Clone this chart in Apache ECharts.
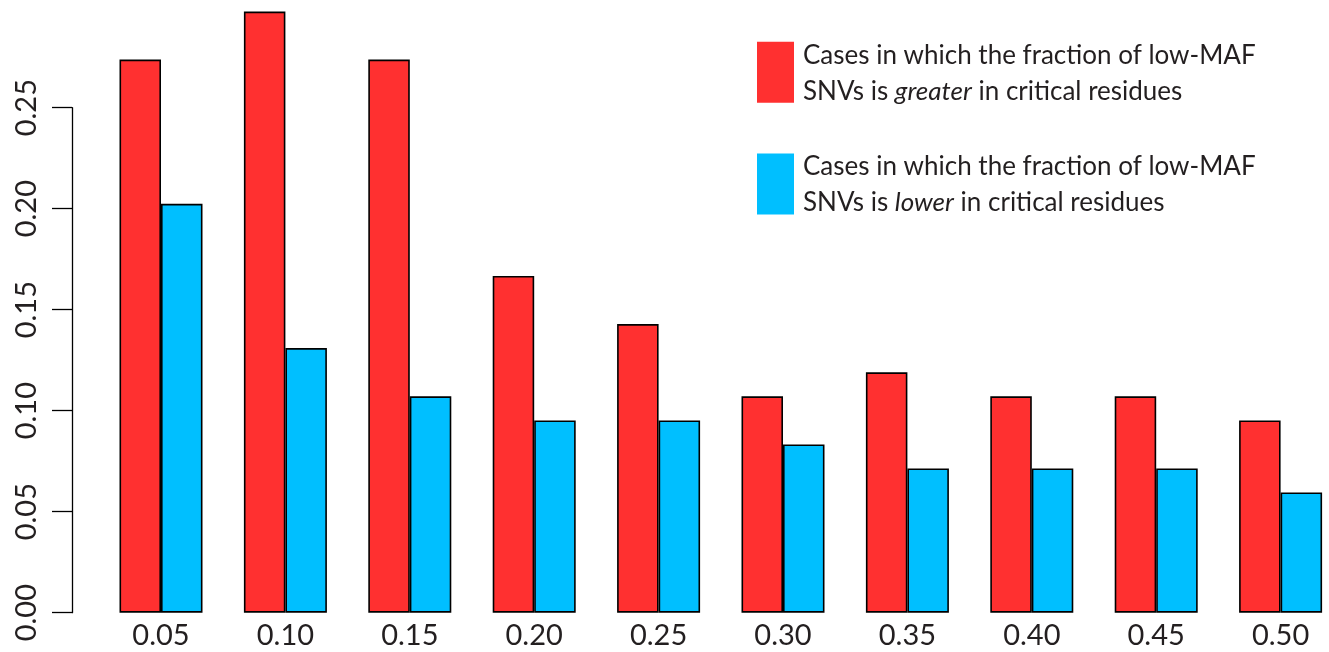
<!DOCTYPE html>
<html>
<head>
<meta charset="utf-8">
<script src="https://cdn.jsdelivr.net/npm/echarts@6/dist/echarts.min.js"></script>
<style>html,body{margin:0;padding:0;background:#fff;}#c{width:1329px;height:652px;}</style>
</head>
<body>
<div id="c"></div>
<script>
var categories = ['0.05','0.10','0.15','0.20','0.25','0.30','0.35','0.40','0.45','0.50'];
var greater = [0.2738,0.2976,0.2738,0.1667,0.1429,0.1071,0.1190,0.1071,0.1071,0.0952];
var lower = [0.2024,0.1310,0.1071,0.0952,0.0952,0.0833,0.0714,0.0714,0.0714,0.0595];
var seriesNames = ['Cases in which the fraction of low-MAF SNVs is greater in critical residues',
                   'Cases in which the fraction of low-MAF SNVs is lower in critical residues'];
var legendLines = {};
legendLines[seriesNames[0]] = 'Cases in which the fraction of low-MAF\nSNVs is {i|greater} in critical residues';
legendLines[seriesNames[1]] = 'Cases in which the fraction of low-MAF\nSNVs is {i|lower} in critical residues';

var FONT = 'Lato';
var FS = 29;
var LFS = 26;
var TXT = '#231f20';
var chart = echarts.init(document.getElementById('c'), null, {renderer:'canvas'});
chart.setOption({
  animation: false,
  backgroundColor: '#fff',
  textStyle: {fontFamily: FONT, color: TXT},
  grid: [
    {left: 98.8, width: 1244, top: 6.7, bottom: 39.3, outerBoundsMode: 'none', containLabel: false},
    {left: 72, width: 1, top: 107.7, bottom: 39.3, outerBoundsMode: 'none', containLabel: false}
  ],
  legend: {
    orient: 'vertical',
    left: 757,
    top: 35.3,
    padding: 0,
    itemWidth: 37,
    itemHeight: 61,
    itemGap: 37.7,
    icon: 'rect',
    itemStyle: {borderWidth: 0},
    formatter: function (name) { return legendLines[name]; },
    textStyle: {
      fontFamily: FONT, fontSize: LFS, color: TXT, lineHeight: 36, padding: [2,0,0,4],
      rich: {i: {fontFamily: FONT, fontSize: LFS, color: TXT, fontStyle: 'italic', lineHeight: 36}}
    }
  },
  xAxis: [
    {type: 'category', gridIndex: 0, data: categories,
     axisLine: {show: false}, axisTick: {show: false},
     axisLabel: {fontFamily: FONT, fontSize: FS, color: TXT, margin: 8}},
    {type: 'value', gridIndex: 1, show: false}
  ],
  yAxis: [
    {type: 'value', gridIndex: 0, min: 0, max: 0.3, show: false},
    {type: 'value', gridIndex: 1, min: 0, max: 0.25, interval: 0.05,
     axisLine: {show: true, lineStyle: {color: '#000', width: 1.3}},
     axisTick: {show: true, length: 20, lineStyle: {color: '#000', width: 1.3}},
     splitLine: {show: false},
     axisLabel: {fontFamily: FONT, fontSize: FS, color: TXT, rotate: 90, margin: 31,
                 formatter: function (v) { return v.toFixed(2); }}}
  ],
  series: [
    {name: seriesNames[0], type: 'bar', xAxisIndex: 0, yAxisIndex: 0, data: greater,
     barWidth: 41.5, barGap: '0%',
     itemStyle: {color: '#FF3030', borderColor: '#000', borderWidth: 1.6}},
    {name: seriesNames[1], type: 'bar', xAxisIndex: 0, yAxisIndex: 0, data: lower,
     barWidth: 41.5, barGap: '0%',
     itemStyle: {color: '#00BFFF', borderColor: '#000', borderWidth: 1.6}}
  ]
});
</script>
</body>
</html>
